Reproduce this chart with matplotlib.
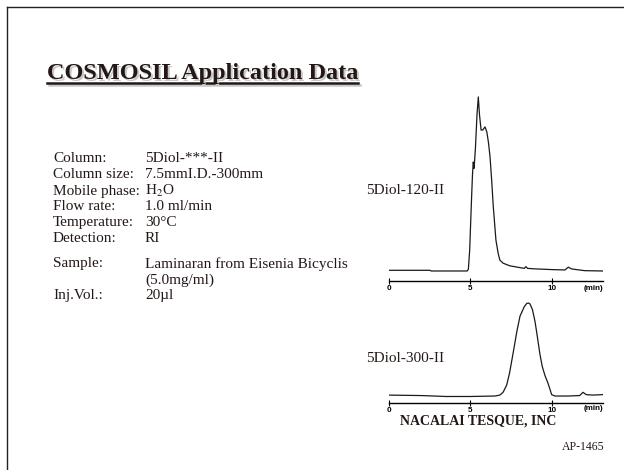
import matplotlib
matplotlib.use('Agg')
import matplotlib.pyplot as plt
from matplotlib.lines import Line2D

plt.rcParams['font.family'] = ['Liberation Serif', 'DejaVu Serif']
plt.rcParams['mathtext.fontset'] = 'stix'

# chromatogram 5Diol-120-II (time in min, detector signal, baseline = 0)
t_120 = [0.0, 2.5, 2.6, 4.8, 4.87, 4.95, 5.05, 5.12, 5.17, 5.22, 5.3, 5.4, 5.48,
         5.55, 5.65, 5.75, 5.89, 6.0, 6.1, 6.2, 6.3, 6.4, 6.5, 6.56, 6.7, 6.8,
         7.0, 7.4, 8.0, 8.3, 8.4, 8.5, 9.0, 10.0, 10.8, 11.0, 11.2, 11.5, 12.0, 13.1]
s_120 = [0.4, 0.4, 0.0, 0.0, 1.0, 12, 38, 55, 62.6, 59, 70, 90, 100,
         90, 81, 81, 82.8, 80, 74, 65.5, 52, 36.8, 25, 17.8, 10, 6.3,
         4.5, 3.0, 2.0, 1.5, 2.5, 1.5, 1.2, 0.8, 0.6, 2.2, 1.2, 0.8, 0.2, 0.0]

# chromatogram 5Diol-300-II
t_300 = [0.0, 2.0, 3.5, 5.0, 6.5, 6.8, 7.0, 7.22, 7.4, 7.63, 7.85, 8.04, 8.3,
         8.45, 8.55, 8.65, 8.8, 8.96, 9.1, 9.26, 9.4, 9.57, 9.75, 9.9, 9.98,
         10.18, 11.0, 11.7, 11.9, 12.1, 12.5, 13.1]
s_300 = [1.0, 0.5, -0.5, -0.5, 0.0, 1.0, 4.0, 11.8, 25, 47.6, 70, 86, 96,
         99.5, 100, 99, 93, 80, 64, 45, 32, 22, 14, 6, 1.5,
         0.0, 0.0, 0.5, 4.0, 1.5, 1.0, 1.5]

ticks = [0, 5, 10]
tick_labels = ['0', '5', '10']

info_keys = ['Column:', 'Column size:', 'Mobile phase:', 'Flow rate:',
             'Temperature:', 'Detection:', 'Sample:', '', 'Inj.Vol.:']
info_vals = ['5Diol-***-II', '7.5mmI.D.-300mm', r'H$_{2}$O', '1.0 ml/min',
             '30°C', 'RI', 'Laminaran from Eisenia Bicyclis', '(5.0mg/ml)', '20µl']
info_y = [159, 175, 191, 207, 223, 239, 264, 280, 296]

W, H = 624, 470
fig = plt.figure(figsize=(W / 100, H / 100), dpi=100)


def fx(px):
    return px / W


def fy(py):
    return 1 - py / H


# slide border
fig.add_artist(Line2D([fx(6.5), fx(6.5)], [fy(7), 0], color='#222222', lw=1.0))
fig.add_artist(Line2D([fx(6.5), 1], [fy(7), fy(7)], color='#222222', lw=1.0))

# title with shadow and underline
title = 'COSMOSIL Application Data'
fig.add_artist(Line2D([fx(49), fx(360)], [fy(85), fy(85)], color='#c8c8c8', lw=1.8))
fig.text(fx(49), fy(81.5), title, fontsize=17.5, fontweight='bold', color='#c8c8c8',
         va='baseline', ha='left')
fig.text(fx(47), fy(79.5), title, fontsize=17.5, fontweight='bold', color='#231815',
         va='baseline', ha='left')
fig.add_artist(Line2D([fx(47), fx(358)], [fy(83), fy(83)], color='#231815', lw=1.8))

for key, val, y in zip(info_keys, info_vals, info_y):
    fig.text(fx(53), fy(y), key, fontsize=11, va='center', ha='left', color='#231815')
    fig.text(fx(145), fy(y), val, fontsize=11, va='center', ha='left', color='#231815')


def chromatogram(rect, t, s, ylim, label, label_y):
    ax = fig.add_axes(rect)
    ax.plot(t, s, color='#1a1a1a', lw=0.9)
    ax.set_xlim(0, 13.13)
    ax.set_ylim(*ylim)
    for side in ['top', 'left', 'right']:
        ax.spines[side].set_visible(False)
    ax.spines['bottom'].set_linewidth(1.0)
    ax.set_yticks([])
    ax.set_xticks(ticks)
    ax.set_xticklabels(tick_labels, fontsize=5.8, fontweight='bold',
                       family=['Liberation Sans', 'DejaVu Sans'])
    ax.tick_params(axis='x', direction='inout', length=4, width=0.8, pad=1)
    ax.text(1.0, -0.02, '(min)', transform=ax.transAxes, ha='right', va='top',
            fontsize=5.8, fontweight='bold', family=['Liberation Sans', 'DejaVu Sans'])
    ax.patch.set_visible(False)
    fig.text(fx(366), fy(label_y), label, fontsize=11, va='center', ha='left',
             color='#231815')
    return ax


chromatogram([fx(389), fy(281), fx(214), 191 / H], t_120, s_120, (-5.75, 104.0),
             '5Diol-120-II', 191)
chromatogram([fx(389), fy(403), fx(214), 108 / H], t_300, s_300, (-7.5, 108.6),
             '5Diol-300-II', 358)

fig.text(fx(478), fy(421), 'NACALAI TESQUE, INC', fontsize=10, fontweight='bold',
         ha='center', va='center', color='#231815')
fig.text(fx(605), fy(447), 'AP-1465', fontsize=8.5, ha='right', va='center',
         color='#231815')

fig.savefig('out.png', dpi=100)
